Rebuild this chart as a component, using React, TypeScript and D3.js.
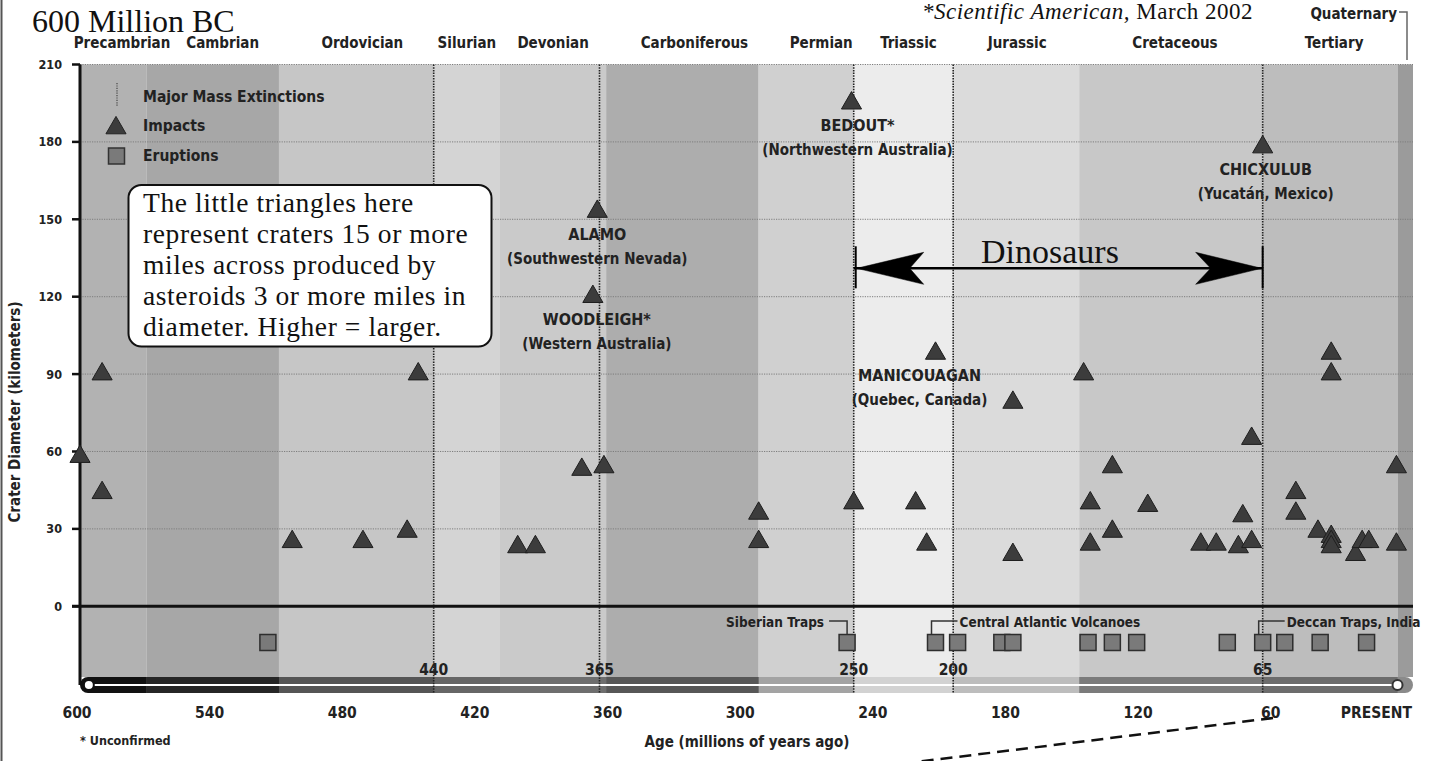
import { useEffect } from "react";
import * as d3 from "d3";

// geologic periods (Ma boundaries, oldest first)
const periodNames = [
  "Precambrian", "Cambrian", "Ordovician", "Silurian", "Devonian", "Carboniferous",
  "Permian", "Triassic", "Jurassic", "Cretaceous", "Tertiary", "Quaternary",
];
const periodBounds = [600, 570, 510, 440, 410, 362, 293, 250, 205, 148, 65, 4, -3];

const extinctionAges = [440, 365, 250, 205, 65];
const extinctionLabels = ["440", "365", "250", "200", "65"];

// impacts: age (Ma) and crater diameter (km)
const impactAges = [
  600, 590, 590, 504, 472, 452, 447, 402, 394, 373, 368, 366, 363, 293, 293, 251, 250, 222,
  217, 213, 178, 178, 146, 143, 143, 133, 133, 117, 93, 86, 76, 74, 70, 70, 65, 50, 50, 40,
  34, 34, 34, 34, 34, 23, 20, 17, 4.5, 4.5,
];
const impactDiameters = [
  58, 90, 44, 25, 25, 29, 90, 23, 23, 53, 120, 153, 54, 36, 25, 195, 40, 40,
  24, 98, 79, 20, 90, 40, 24, 54, 29, 39, 24, 24, 23, 35, 25, 65, 178, 44, 36, 29,
  98, 90, 27, 25, 23, 20, 25, 25, 54, 24,
];

const craterNames = ["BEDOUT*", "ALAMO", "WOODLEIGH*", "MANICOUAGAN", "CHICXULUB"];
const craterPlaces = [
  "(Northwestern Australia)", "(Southwestern Nevada)", "(Western Australia)",
  "(Quebec, Canada)", "(Yucatán, Mexico)",
];
const craterAges = [251, 366, 368, 213, 65];
const craterDiameters = [195, 153, 120, 98, 178];

// eruptions (flood basalts), age in Ma
const eruptionAges = [515, 253, 213, 203, 183, 178, 144, 133, 122, 81, 65, 55, 39, 18];
const eruptionNames = ["Siberian Traps", "Central Atlantic Volcanoes", "Deccan Traps, India"];
const eruptionNameAges = [253, 213, 65];

const yTicks = [0, 30, 60, 90, 120, 150, 180, 210];
const xTicks = [600, 540, 480, 420, 360, 300, 240, 180, 120, 60, 0];

const dinosaurSpan = [250, 65];

const noteLines = [
  "The little triangles here",
  "represent craters 15 or more",
  "miles across produced by",
  "asteroids 3 or more miles in",
  "diameter. Higher = larger.",
];

// styles
const bandFill = [
  "#b2b2b2", "#a7a7a7", "#c6c6c6", "#d4d4d4", "#cacaca", "#adadad",
  "#d0d0d0", "#ececec", "#dbdbdb", "#c8c8c8", "#bdbdbd", "#9b9b9b",
];
const barFill = [
  "#111", "#262626", "#555", "#666", "#6e6e6e", "#575757",
  "#a3a3a3", "#d2d2d2", "#bdbdbd", "#7b7b7b", "#6c6c6c", "#8a8a8a",
];
const periodLabelShift = [0, 10, 6, 0, 0, 12, 15, 5, 1, 4, 4];
const labelShift: Record<string, number> = { "BEDOUT*": 6, "WOODLEIGH*": 4, MANICOUAGAN: -16, CHICXULUB: 3 };

const SANS = "'DejaVu Sans Condensed', 'DejaVu Sans', sans-serif";
const SERIF = "'Liberation Serif', 'Times New Roman', serif";

export default function App() {
  useEffect(() => {
    document.body.style.margin = "0";
    document.body.style.overflow = "hidden";
  }, []);

  const x = d3.scaleLinear().domain([600, -3]).range([80, 1413]);
  const y = d3.scaleLinear().domain([-34, 210]).range([694, 64.5]);

  const top = y(210);
  const barTop = 677;
  const barBottom = 693;
  const barMid = 685;
  const eruptionY = y(-14);

  const tri = d3.symbol().type(d3.symbolTriangle).size(175)()!;
  const sq = d3.symbol().type(d3.symbolSquare).size(256)()!;

  const dinoY = y(131);
  const dx0 = x(dinosaurSpan[0]);
  const dx1 = x(dinosaurSpan[1]);

  return (
    <svg width={1435} height={761} style={{ position: "absolute", left: 0, top: 0, background: "#fff" }}>
      <defs>
        <clipPath id="barClip">
          <rect x={80} y={barTop} width={1413 - 80} height={barBottom - barTop} rx={8} />
        </clipPath>
      </defs>

      {/* left border of the page */}
      <line x1={1.5} x2={1.5} y1={0} y2={761} stroke="#555" strokeWidth={2} />

      {/* period bands */}
      {periodNames.map((p, i) => (
        <rect key={p} x={x(periodBounds[i])} y={top}
          width={x(periodBounds[i + 1]) - x(periodBounds[i])} height={barTop - top}
          fill={bandFill[i]} />
      ))}

      {/* horizontal grid */}
      {yTicks.filter((t) => t > 0).map((t) => (
        <line key={t} x1={80} x2={1413} y1={y(t)} y2={y(t)} stroke="#7d7d7d" strokeWidth={1} strokeDasharray="1.2,1.2" />
      ))}

      {/* time bar */}
      <g clipPath="url(#barClip)">
        {periodNames.map((p, i) => (
          <rect key={p} x={x(periodBounds[i])} y={barTop}
            width={x(periodBounds[i + 1]) - x(periodBounds[i]) + 0.5} height={barBottom - barTop}
            fill={barFill[i]} />
        ))}
      </g>
      <line x1={x(596)} x2={x(4)} y1={barMid} y2={barMid} stroke="#fff" strokeWidth={2} />

      {/* mass extinctions */}
      {extinctionAges.map((a, i) => (
        <g key={a}>
          <line x1={x(a)} x2={x(a)} y1={top} y2={barBottom} stroke="#222" strokeWidth={1.6} strokeDasharray="1.5,1.2" />
          <text x={x(a)} y={675} textAnchor="middle" fontFamily={SANS} fontWeight="bold" fontSize={15.5} fill="#222">
            {extinctionLabels[i]}
          </text>
        </g>
      ))}

      <circle cx={x(596)} cy={barMid} r={5} fill="#fff" stroke="#111" strokeWidth={2} />
      <circle cx={x(4)} cy={barMid} r={5} fill="#fff" stroke="#333" strokeWidth={2} />

      {/* y axis */}
      <line x1={80} x2={80} y1={top} y2={barMid} stroke="#111" strokeWidth={3} />
      <line x1={72} x2={1413} y1={y(0)} y2={y(0)} stroke="#111" strokeWidth={3} />
      {yTicks.map((t) => (
        <g key={t}>
          <line x1={72} x2={80} y1={y(t)} y2={y(t)} stroke="#111" strokeWidth={2.5} />
          <text x={62} y={y(t)} dy="0.36em" textAnchor="end" fontFamily={SANS} fontWeight="bold" fontSize={12.5} fill="#222">
            {t}
          </text>
        </g>
      ))}
      <text transform={`translate(20,412) rotate(-90)`} textAnchor="middle" fontFamily={SANS} fontWeight="bold" fontSize={15} fill="#222">
        Crater Diameter (kilometers)
      </text>

      {/* x axis labels */}
      {xTicks.map((t) => (
        <text key={t} x={t === 0 ? 1412 : x(t) - 3} y={718} textAnchor={t === 0 ? "end" : "middle"}
          fontFamily={SANS} fontWeight="bold" fontSize={15.5} fill="#222">
          {t === 0 ? "PRESENT" : t}
        </text>
      ))}
      <text x={747} y={747} textAnchor="middle" fontFamily={SANS} fontWeight="bold" fontSize={15} fill="#222">
        Age (millions of years ago)
      </text>
      <text x={80} y={745} fontFamily={SANS} fontWeight="bold" fontSize={12.5} fill="#222">
        * Unconfirmed
      </text>

      {/* period labels */}
      {periodNames.slice(0, 11).map((p, i) => (
        <text key={p}
          x={Math.max(122, (x(periodBounds[i]) + x(periodBounds[i + 1])) / 2 + periodLabelShift[i])} y={48}
          textAnchor="middle" fontFamily={SANS} fontWeight="bold" fontSize={15} fill="#222">
          {p}
        </text>
      ))}
      <text x={1397} y={19} textAnchor="end" fontFamily={SANS} fontWeight="bold" fontSize={15} fill="#222">
        {periodNames[11]}
      </text>
      <path d="M1399,12 H1407 V60" fill="none" stroke="#666" strokeWidth={1.5} />

      {/* legend */}
      <line x1={117} x2={117} y1={83} y2={107} stroke="#555" strokeWidth={1.4} strokeDasharray="1.2,1.2" />
      <path d={tri} transform="translate(116,128)" fill="#3c3c3c" stroke="#222" strokeWidth={1} />
      <rect x={108.5} y={148} width={16} height={16} fill="#7a7a7a" stroke="#333" strokeWidth={1.5} />
      <text x={143} y={102} fontFamily={SANS} fontWeight="bold" fontSize={15.5} fill="#222">Major Mass Extinctions</text>
      <text x={143} y={131} fontFamily={SANS} fontWeight="bold" fontSize={15.5} fill="#222">Impacts</text>
      <text x={143} y={161} fontFamily={SANS} fontWeight="bold" fontSize={15.5} fill="#222">Eruptions</text>

      {/* impacts */}
      {impactAges.map((a, i) => (
        <path key={i} d={tri} transform={`translate(${x(a)},${y(impactDiameters[i])})`}
          fill="#3c3c3c" stroke="#1e1e1e" strokeWidth={1} />
      ))}

      {/* named craters */}
      {craterNames.map((n, i) => {
        const cx = x(craterAges[i]) + (labelShift[n] || 0);
        const cy = y(craterDiameters[i]);
        return (
          <g key={n} fontFamily={SANS} fontWeight="bold" fill="#222" textAnchor="middle">
            <text x={cx} y={cy + 28} fontSize={16}>{n}</text>
            <text x={cx} y={cy + 52} fontSize={15}>{craterPlaces[i]}</text>
          </g>
        );
      })}

      {/* eruptions */}
      {eruptionAges.map((a, i) => (
        <path key={i} d={sq} transform={`translate(${x(a)},${eruptionY})`} fill="#7a7a7a" stroke="#2e2e2e" strokeWidth={1.5} />
      ))}
      {eruptionNames.map((n, i) => {
        const ex = x(eruptionNameAges[i]);
        const left = i === 0;
        return (
          <g key={n}>
            <path d={left ? `M${ex - 18},621 H${ex} V634` : `M${ex - 4},634 V621 H${ex + 22}`}
              fill="none" stroke="#333" strokeWidth={1.5} />
            <text x={left ? ex - 23 : ex + 24} y={627} textAnchor={left ? "end" : "start"}
              fontFamily={SANS} fontWeight="bold" fontSize={13.5} fill="#222">
              {n}
            </text>
          </g>
        );
      })}

      {/* dinosaurs arrow */}
      <g stroke="#000" fill="#000">
        <line x1={dx0} x2={dx1} y1={dinoY} y2={dinoY} strokeWidth={2.5} />
        <line x1={dx0 + 2} x2={dx0 + 2} y1={dinoY - 22} y2={dinoY + 20} strokeWidth={2} />
        <line x1={dx1} x2={dx1} y1={dinoY - 22} y2={dinoY + 20} strokeWidth={2} />
        <path d={`M${dx0 + 3},${dinoY} L${dx0 + 70},${dinoY - 16} L${dx0 + 56},${dinoY} L${dx0 + 70},${dinoY + 16} Z`} strokeWidth={0.5} />
        <path d={`M${dx1 - 1},${dinoY} L${dx1 - 67},${dinoY - 16} L${dx1 - 52},${dinoY} L${dx1 - 67},${dinoY + 16} Z`} strokeWidth={0.5} />
      </g>
      <text x={1050} y={dinoY - 5} textAnchor="middle" fontFamily={SERIF} fontSize={34} fill="#111">
        Dinosaurs
      </text>

      {/* note box */}
      <rect x={128.5} y={185} width={363} height={161.5} rx={13} fill="#fff" stroke="#111" strokeWidth={2} />
      <g fontFamily={SERIF} fontSize={27.5} letterSpacing={0.6} fill="#111">
        {noteLines.map((l, i) => (
          <text key={i} x={143} y={212 + i * 31}>{l}</text>
        ))}
      </g>

      {/* overlay texts */}
      <text x={32} y={32} fontFamily={SERIF} fontSize={32} fill="#111">600 Million BC</text>
      <text x={922} y={19} fontFamily={SERIF} fontSize={23} letterSpacing={0.5} fill="#111">
        <tspan fontStyle="italic">*Scientific American,</tspan> March 2002
      </text>

      {/* dashed pointer */}
      <line x1={1273} y1={718} x2={900} y2={764} stroke="#111" strokeWidth={2.5} strokeDasharray="12,7" />
    </svg>
  );
}
